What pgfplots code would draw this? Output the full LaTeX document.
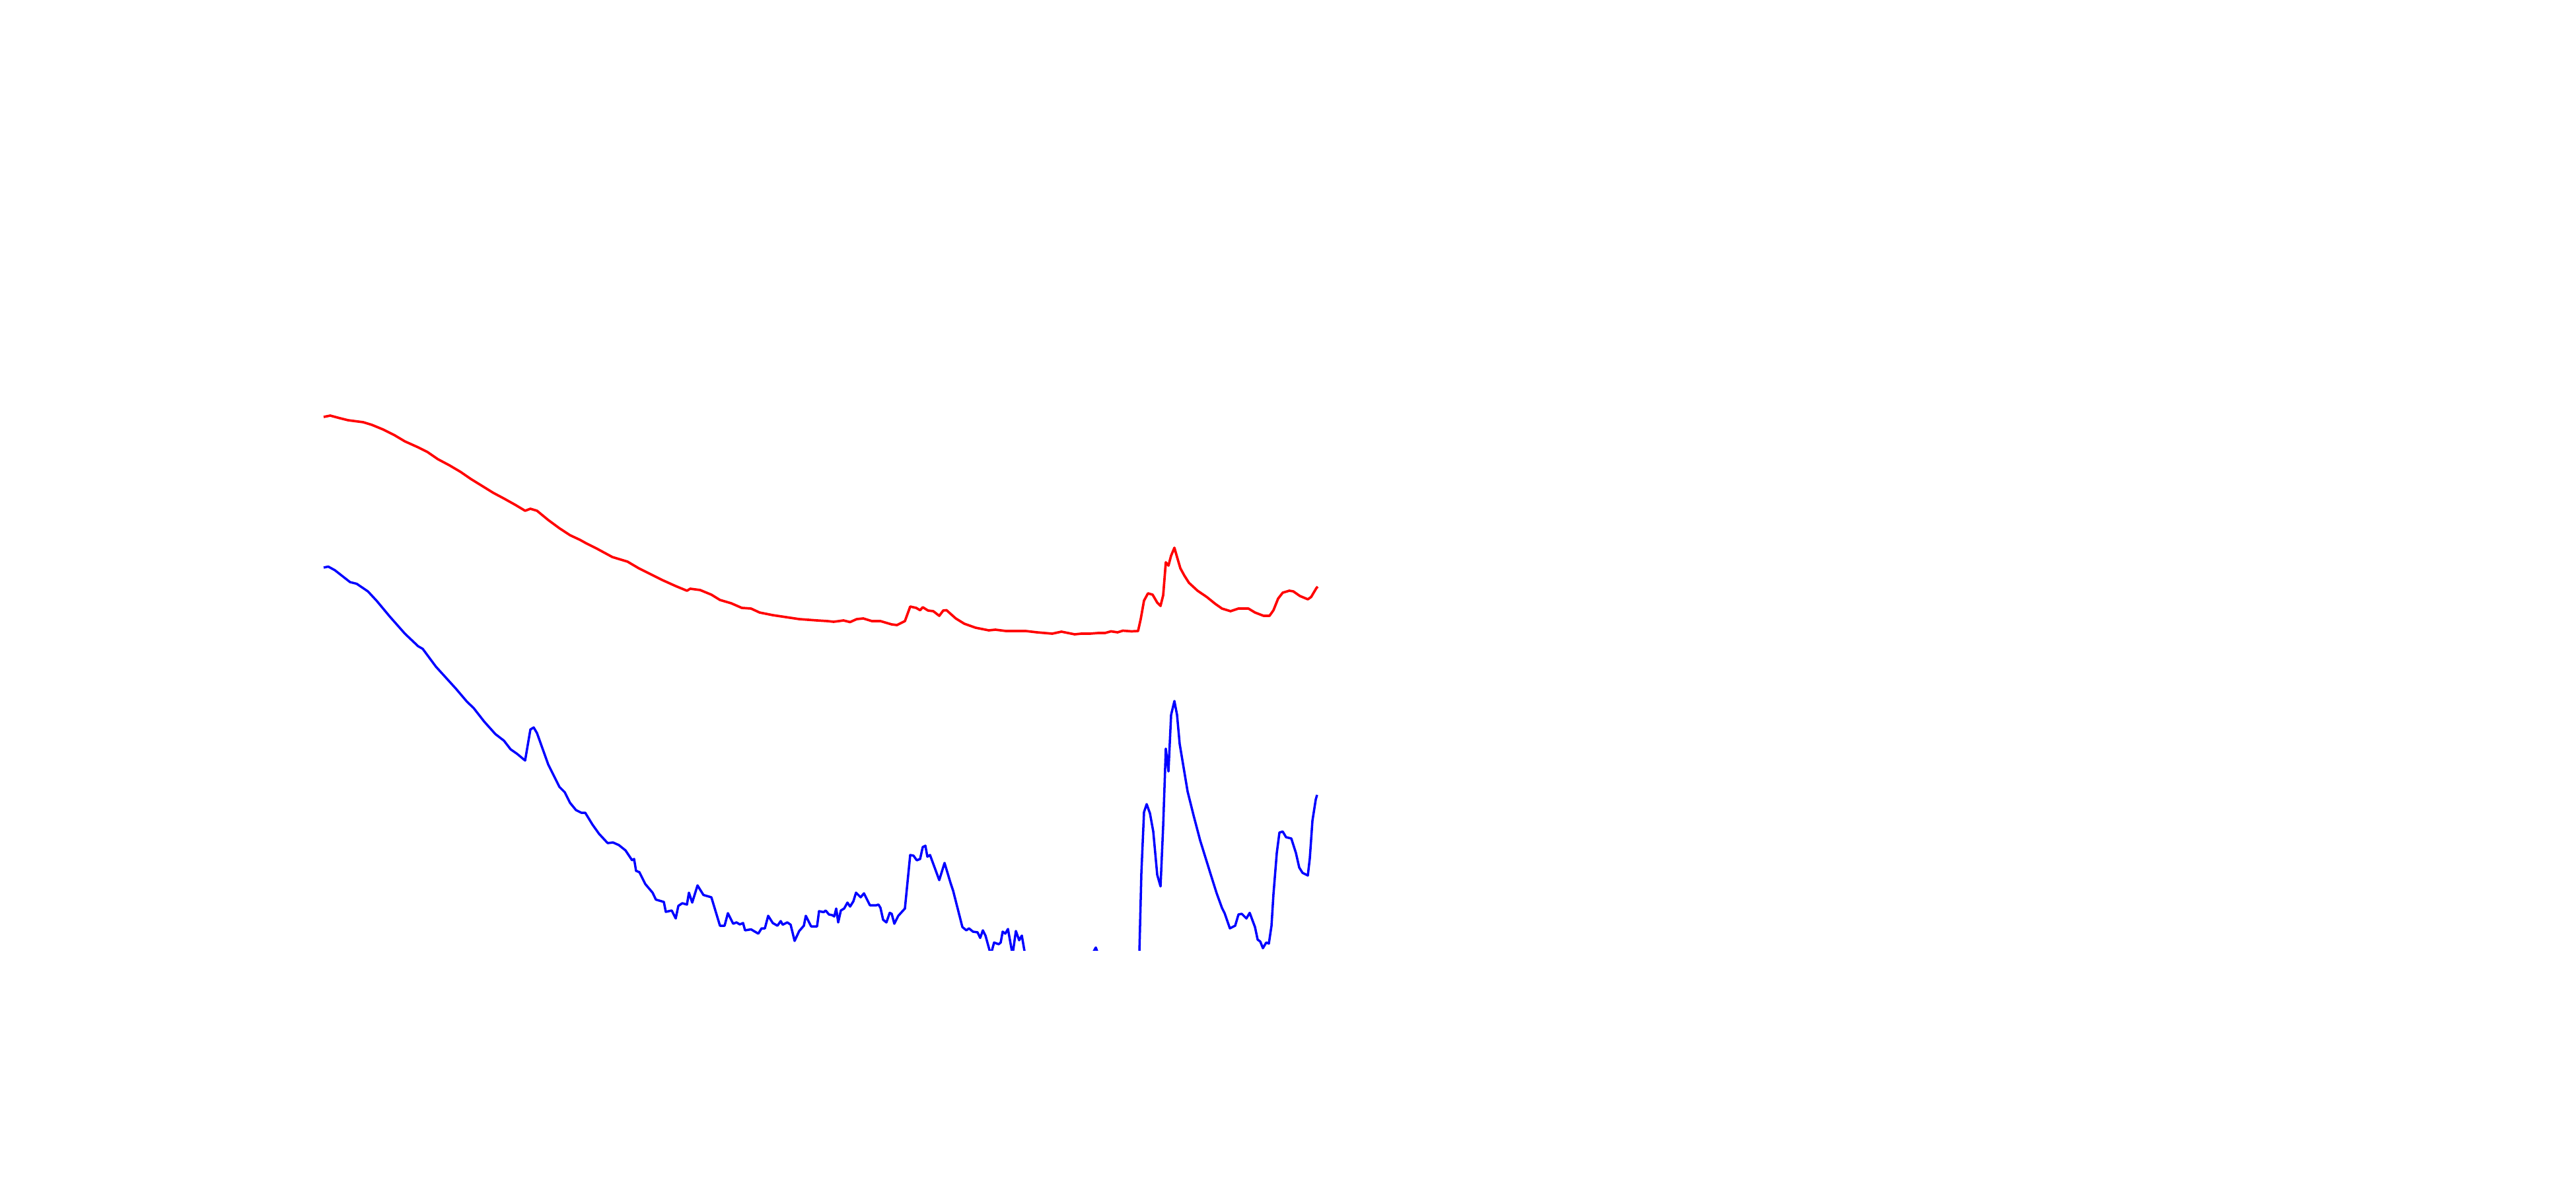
\documentclass[border=0pt]{standalone}
\usepackage{pgfplots}
\pgfplotsset{compat=1.18}
\begin{document}
\begin{tikzpicture}
\begin{axis}[
  at={(4.80cm,3.62cm)}, anchor=south west,
  scale only axis, width=15.30cm, height=8.38cm,
  xmin=480, xmax=2010, ymin=362, ymax=1200,
  hide axis, clip=true,
]
\addplot[red, line width=1.05pt, line join=round, mark=none] coordinates {
(490,1169)(500,1171)(513,1167.5)(527,1164)(550,1161)(563,1157)(580,1150)(597,1141.5)
(613,1132)(633,1123)(647,1116)(663,1105)(680,1096)(697,1086)(713,1075)(730,1064.5)
(747,1054)(763,1045.5)(780,1036)(795,1027)(803,1030)(813,1027)(830,1013)(847,1000.5)
(863,990)(878,983)(887,978)(903,970)(927,957)(950,950)(967,940)(983,932)(1003,922)
(1023,913)(1040,906)(1045,909)(1060,907)(1077,900)(1090,892)(1107,887)(1123,880)
(1137,879)(1150,873)(1170,869)(1190,866)(1210,863)(1237,861)(1253,860)(1262,859)
(1270,860)(1277,861)(1287,858.5)(1297,863)(1307,864)(1320,860)(1333,860)(1350,855)
(1358,854)(1370,860)(1378,882)(1387,880)(1393,876.5)(1397,881)(1405,876)(1413,875)
(1422,868)(1428,876)(1433,876.5)(1447,864)(1460,856)(1477,850)(1497,846)(1507,847)
(1523,845)(1553,845)(1570,843)(1593,841)(1607,844)(1627,840)(1637,841)(1650,841)
(1663,842)(1673,842)(1682,844.5)(1692,843)(1700,845.5)(1713,844.5)(1723,845)
(1727,863)(1732,891)(1738,902)(1745,900)(1752,888)(1757,883)(1761,899)(1765,949)
(1769,944)(1773,959)(1778,971)(1782,957)(1787,940)(1793,929)(1800,918)(1813,906)
(1827,896.5)(1840,886)(1850,879)(1863,875)(1875,879)(1890,879)(1900,873)(1913,868)
(1922,868)(1928,876.5)(1935,894)(1942,903)(1952,906)(1958,905)(1968,898)(1980,893)
(1985,896.5)(1993,910)(1995,912)
};
\addplot[blue, line width=1.0pt, line join=round, mark=none] coordinates {
(490,941)(497,942.5)(507,937)(530,919)(540,916.5)(557,905)(570,891)(590,867)
(613,841)(633,822)(640,818)(660,791)(680,769)(690,758)(707,738)(717,728.5)(733,708)
(750,689)(763,679)(773,666)(783,659)(795,649)(803,696)(808,699)(813,690.5)(830,643)
(840,623)(847,609)(855,601)(863,585)(872,574)(880,570)(886,570)(897,552)(907,538)
(920,524)(928,525)(937,521)(947,513)(957,498)(960,500)(963,482)(968,480)(977,462)
(988,449)(993,438.5)(1005,435)(1008,420)(1017,422)(1023,410)(1027,429)(1033,433)
(1040,431)(1043,449)(1048,434)(1056,460)(1065,445.5)(1077,442)(1090,399)(1097,399)
(1102,418)(1110,402)(1115,404)(1120,401)(1125,403)(1128,392)(1137,393.5)(1148,387)
(1153,395)(1158,395)(1163,414)(1170,403)(1177,399)(1182,406)(1185,400.5)(1192,404)
(1197,400.5)(1203,376)(1210,391)(1217,399)(1220,414)(1228,398)(1237,398)(1240,421)
(1247,419.5)(1250,422)(1255,416)(1260,415)(1263,413)(1266,425)(1269,404)(1273,422)
(1278,425)(1283,434)(1287,428)(1292,436)(1296,449)(1303,442)(1308,448)(1317,430)
(1327,430)(1330,431)(1333,426)(1337,408)(1342,404)(1347,418.5)(1350,417)(1354,402)
(1360,414)(1370,425)(1378,506)(1383,505)(1388,498)(1393,500)(1397,518)(1401,520)
(1404,503.5)(1408,506)(1422,468)(1430,494)(1439,464)(1443,452)(1457,397)(1463,392)
(1467,395)(1473,390)(1480,389)(1484,380.5)(1488,392)(1492,384)(1500,355)(1505,373.5)
(1512,371)(1515,373.5)(1518,390)(1522,387)(1526,394)(1533,355)(1538,391)(1543,377)
(1547,384)(1552,355)(1565,330)(1590,310)(1620,320)(1645,340)(1659,366)(1672,330)
(1700,320)(1720,340)(1725,360)(1728,479)(1732,571)(1736,583)(1741,569)(1746,541.5)
(1752,476)(1757,458.5)(1761,550)(1765,667)(1769,632.5)(1773,718)(1778,739)(1782,718)
(1786,674)(1798,602)(1807,566)(1817,528)(1833,476.5)(1842,448)(1850,426)(1854,418)
(1862,395)(1870,399)(1875,416)(1880,417)(1887,410)(1892,418.5)(1897,405)(1900,397)
(1904,378)(1908,375)(1912,365)(1917,373.5)(1921,372)(1925,399)(1928,447)(1933,509)
(1937,540)(1942,541.5)(1947,533)(1955,531)(1962,509)(1967,487)(1972,479)(1980,475)
(1983,501)(1987,558)(1992,590)(1994,597)
};
\end{axis}
\path[use as bounding box] (0,0) rectangle (39cm,18cm);
\end{tikzpicture}
\end{document}
